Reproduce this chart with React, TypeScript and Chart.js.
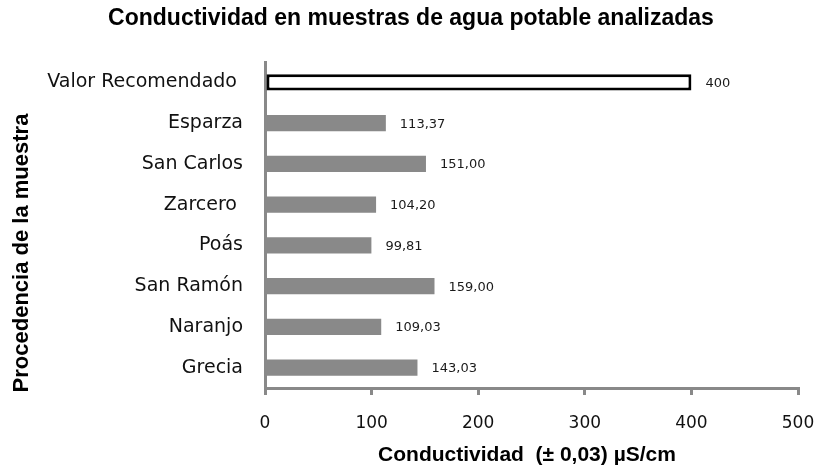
import React, { useEffect, useRef } from "react";
import { Chart, registerables } from "chart.js";

Chart.register(...registerables);

const categories = [
  "Valor Recomendado ",
  "Esparza",
  "San Carlos",
  "Zarcero ",
  "Poás",
  "San Ramón",
  "Naranjo",
  "Grecia",
];
const values = [400, 113.37, 151.0, 104.2, 99.81, 159.0, 109.03, 143.03];
const valueLabels = ["400", "113,37", "151,00", "104,20", "99,81", "159,00", "109,03", "143,03"];
const xTicks = [0, 100, 200, 300, 400, 500];
const chartTitle = "Conductividad en muestras de agua potable analizadas";
const xTitle = "Conductividad  (± 0,03) µS/cm";
const yTitle = "Procedencia de la muestra";

const textPlugin = {
  id: "customText",
  afterDatasetsDraw(chart: any) {
    const ctx = chart.ctx;
    const meta = chart.getDatasetMeta(0);
    ctx.save();
    ctx.fillStyle = "#1a1a1a";
    ctx.font = "13px 'DejaVu Sans'";
    ctx.textAlign = "left";
    ctx.textBaseline = "middle";
    meta.data.forEach((bar: any, i: number) => {
      ctx.fillText(valueLabels[i], bar.x + 14, bar.y + 1);
    });
    ctx.restore();
  },
  afterDraw(chart: any) {
    const ctx = chart.ctx;
    ctx.save();
    ctx.fillStyle = "#000";
    ctx.textAlign = "center";
    ctx.textBaseline = "middle";
    ctx.font = "bold 23px 'Liberation Sans'";
    ctx.fillText(chartTitle, 411, 19);
    ctx.font = "bold 21px 'Liberation Sans'";
    ctx.fillText(xTitle, 527, 455);
    ctx.translate(22, 253);
    ctx.rotate(-Math.PI / 2);
    ctx.font = "bold 22px 'Liberation Sans'";
    ctx.fillText(yTitle, 0, 0);
    ctx.restore();
  },
};

export default function App() {
  const ref = useRef<HTMLCanvasElement>(null);
  useEffect(() => {
    document.body.style.margin = "0";
    const chart = new Chart(ref.current!, {
      type: "bar",
      data: {
        labels: categories,
        datasets: [
          {
            data: values,
            backgroundColor: values.map((_, i) => (i === 0 ? "#ffffff" : "#898989")),
            borderColor: values.map((_, i) => (i === 0 ? "#000000" : "#898989")),
            borderWidth: values.map((_, i) => (i === 0 ? 3 : 0)),
            borderSkipped: false,
            categoryPercentage: 1,
            barPercentage: 0.4,
          },
        ],
      },
      options: {
        indexAxis: "y",
        responsive: false,
        animation: false,
        layout: { padding: { left: 0, right: 19, top: 62, bottom: 0 } },
        plugins: {
          legend: { display: false },
          tooltip: { enabled: false },
          title: { display: false },
        },
        scales: {
          x: {
            min: 0,
            max: 500,
            afterFit(scale: any) {
              scale.height = 82;
              scale.paddingLeft = 0;
              scale.paddingRight = 0;
            },
            afterBuildTicks(scale: any) {
              scale.ticks = xTicks.map((v) => ({ value: v }));
            },
            border: { color: "#898989", width: 3 },
            grid: {
              drawOnChartArea: false,
              drawTicks: true,
              tickLength: 7,
              color: "#898989",
              lineWidth: 3,
            },
            ticks: {
              color: "#111",
              font: { family: "'DejaVu Sans'", size: 17 },
              padding: 18,
              maxRotation: 0,
            },
          },
          y: {
            afterFit(scale: any) {
              scale.width = 265;
              scale.paddingTop = 0;
              scale.paddingBottom = 0;
            },
            border: { color: "#898989", width: 3 },
            grid: { display: false, drawTicks: false, tickLength: 0 },
            ticks: {
              color: "#111",
              font: { family: "'DejaVu Sans'", size: 19 },
              padding: 22,
            },
          },
        },
      },
      plugins: [textPlugin],
    });
    return () => chart.destroy();
  }, []);
  return (
    <div style={{ width: 817, height: 470 }}>
      <canvas ref={ref} width={817} height={470} />
    </div>
  );
}
